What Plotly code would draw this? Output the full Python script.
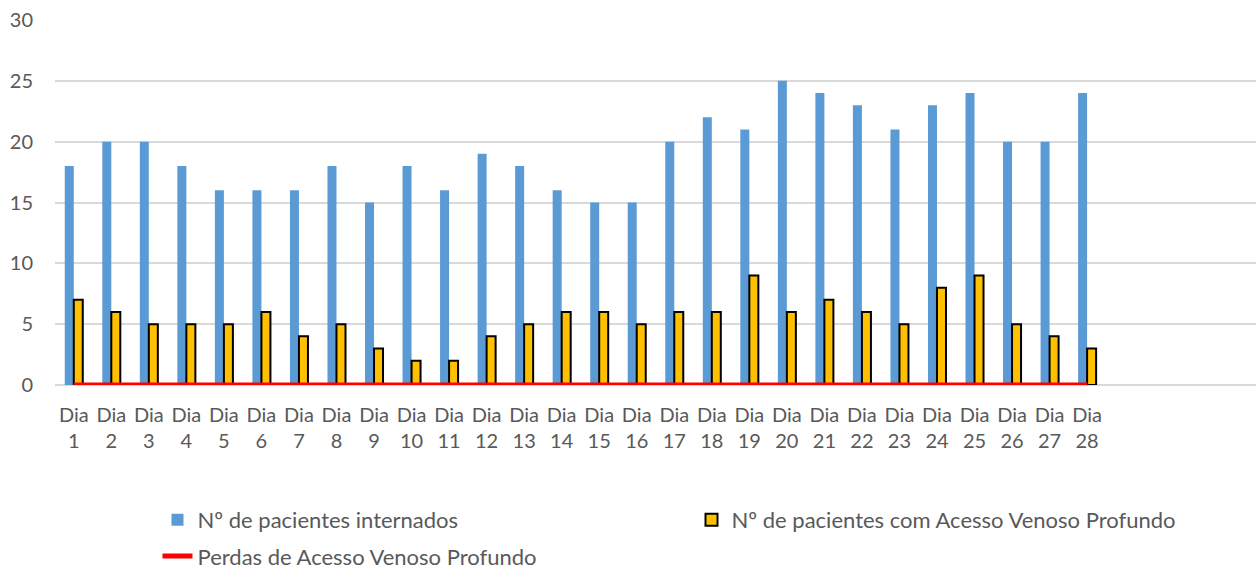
import plotly.graph_objects as go

categories = [f"Dia {i}" for i in range(1, 29)]
internados = [18, 20, 20, 18, 16, 16, 16, 18, 15, 18, 16, 19, 18, 16, 15, 15, 20, 22, 21, 25, 24, 23, 21, 23, 24, 20, 20, 24]
acesso = [7, 6, 5, 5, 5, 6, 4, 5, 3, 2, 2, 4, 5, 6, 6, 5, 6, 6, 9, 6, 7, 6, 5, 8, 9, 5, 4, 3]
perdas = [0] * 28
y_ticks = [0, 5, 10, 15, 20, 25, 30]

FONT = "Lato"
TXT = "#595959"
FS = 22
TFS = 20

fig = go.Figure()
fig.add_trace(go.Bar(
    x=categories, y=internados, name="Nº de pacientes internados",
    marker=dict(color="#5B9BD5", line=dict(width=0)), legend="legend",
))
fig.add_trace(go.Bar(
    x=categories, y=acesso, name="Nº de pacientes com Acesso Venoso Profundo",
    marker=dict(color="#FFC000", line=dict(color="#000000", width=2)), legend="legend",
))
fig.add_trace(go.Scatter(
    x=categories, y=perdas, name="Perdas de Acesso Venoso Profundo",
    mode="lines", line=dict(color="#FF0000", width=5), cliponaxis=False, legend="legend2",
))

fig.update_layout(
    width=1256, height=570,
    margin=dict(l=55, r=0, t=20, b=185, autoexpand=False),
    paper_bgcolor="white", plot_bgcolor="white",
    barmode="group", bargap=0.52, bargroupgap=0,
    font=dict(family=FONT, size=FS, color=TXT),
    showlegend=True,
    legend=dict(
        orientation="h", xref="container", yref="container",
        x=0.1254, y=0.088, xanchor="left", yanchor="middle",
        entrywidth=489, entrywidthmode="pixels",
        font=dict(family=FONT, size=FS, color=TXT), bgcolor="rgba(0,0,0,0)",
    ),
    legend2=dict(
        orientation="h", xref="container", yref="container",
        x=0.1254, y=0.024, xanchor="left", yanchor="middle",
        font=dict(family=FONT, size=FS, color=TXT), bgcolor="rgba(0,0,0,0)",
    ),
)
fig.update_xaxes(
    type="category", categoryorder="array", categoryarray=categories,
    range=[-0.5, 31.5],
    tickvals=categories, ticktext=[c.replace(" ", "<br>") for c in categories],
    tickfont=dict(family=FONT, size=TFS, color=TXT), tickangle=0,
    showgrid=False, showline=False, ticks="", ticklabelstandoff=16,
)
fig.update_yaxes(
    range=[0, 30], tickvals=y_ticks,
    tickfont=dict(family=FONT, size=TFS, color=TXT),
    showgrid=True, gridcolor="#D9D9D9", gridwidth=1.5,
    zeroline=True, zerolinecolor="#D9D9D9", zerolinewidth=1.5,
    showline=False, ticks="", ticklabelstandoff=21,
)

fig.write_html("out.html", config={"displayModeBar": False},
               post_script="document.body.style.margin='0';")
